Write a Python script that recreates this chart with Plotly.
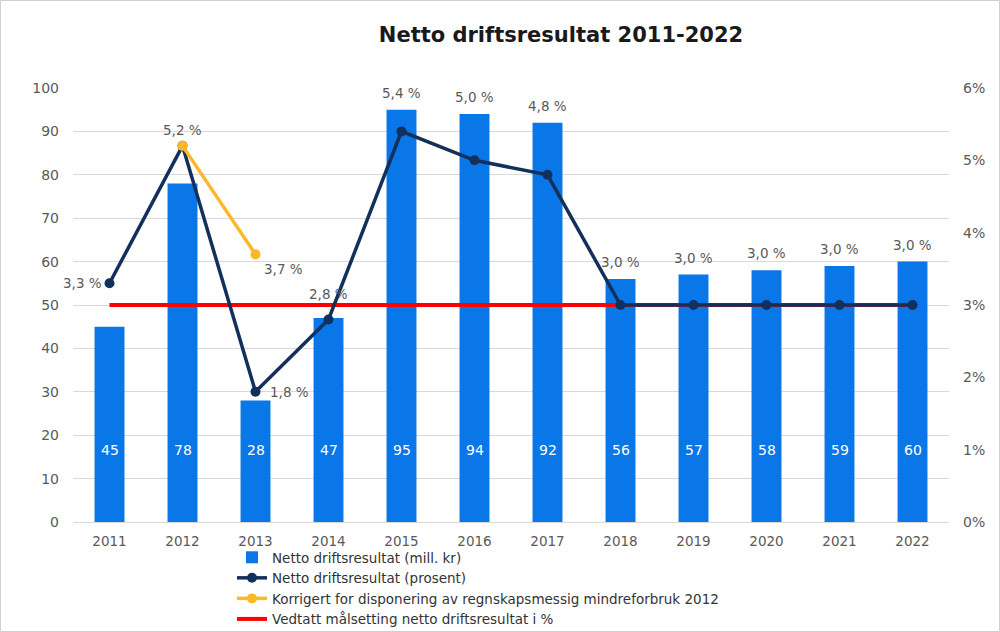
import plotly.graph_objects as go

years = ["2011", "2012", "2013", "2014", "2015", "2016", "2017", "2018", "2019", "2020", "2021", "2022"]
netto_mill = [45, 78, 28, 47, 95, 94, 92, 56, 57, 58, 59, 60]
netto_pct = [3.3, 5.2, 1.8, 2.8, 5.4, 5.0, 4.8, 3.0, 3.0, 3.0, 3.0, 3.0]
korr_years = ["2012", "2013"]
korr_pct = [5.2, 3.7]
maal_pct = [3.0] * 12

W, H = 1000, 632
ML, MR, MT, MB = 73, 51, 88, 110
PW, PH = W - ML - MR, H - MT - MB

FONT = "DejaVu Sans"
GREY = "#595959"
BAR_C = "#0A77E8"
NAVY = "#13305A"
YEL = "#FDB827"
RED = "#FF0000"

fig = go.Figure()
fig.add_trace(go.Bar(
    x=years, y=netto_mill, name="Netto driftsresultat (mill. kr)",
    marker=dict(color=BAR_C, line=dict(width=0)), width=0.41,
    legendrank=1, hoverinfo="skip",
))
fig.add_trace(go.Scatter(
    x=years, y=[v / 100 for v in maal_pct], yaxis="y2", mode="lines",
    name="Vedtatt målsetting netto driftsresultat i %",
    line=dict(color=RED, width=4), legendrank=4,
))
fig.add_trace(go.Scatter(
    x=years, y=[v / 100 for v in netto_pct], yaxis="y2", mode="lines+markers",
    name="Netto driftsresultat (prosent)",
    line=dict(color=NAVY, width=3.5), marker=dict(color=NAVY, size=10),
    legendrank=2,
))
fig.add_trace(go.Scatter(
    x=korr_years, y=[v / 100 for v in korr_pct], yaxis="y2", mode="lines+markers",
    name="Korrigert for disponering av regnskapsmessig mindreforbruk 2012",
    line=dict(color=YEL, width=3.5), marker=dict(color=YEL, size=10),
    legendrank=3,
))

def fmt(v):
    return f"{v:.1f} %".replace(".", ",")

ann = []
# bar value labels (white, placed low inside the bars)
for i, v in enumerate(netto_mill):
    ann.append(dict(x=i, xref="x", y=16.6, yref="y", text=str(v), showarrow=False,
                    font=dict(color="white", size=14, family=FONT)))

# percentage labels
placement = ["left", "above_pt", "right", "above_pt_hi", "above_bar", "above_bar", "above_bar",
             "above_bar", "above_bar", "above_bar", "above_bar", "above_bar"]
for i, (p, b, pl) in enumerate(zip(netto_pct, netto_mill, placement)):
    d = dict(x=i, xref="x", text=fmt(p), showarrow=False,
             font=dict(color=GREY, size=13.5, family=FONT))
    if pl == "left":
        d.update(y=p / 100, yref="y2", xanchor="right", yanchor="middle", xshift=-6)
    elif pl == "right":
        d.update(y=p / 100, yref="y2", xanchor="left", yanchor="middle", xshift=12)
    elif pl == "above_pt":
        d.update(y=p / 100, yref="y2", xanchor="center", yanchor="bottom", yshift=6)
    elif pl == "above_pt_hi":
        d.update(y=p / 100, yref="y2", xanchor="center", yanchor="bottom", yshift=15)
    else:
        d.update(y=b, yref="y", xanchor="center", yanchor="bottom", yshift=7)
    ann.append(d)
# corrected 2013 label
ann.append(dict(x=years.index(korr_years[1]), xref="x", y=korr_pct[1] / 100, yref="y2",
                text=fmt(korr_pct[1]), showarrow=False, xanchor="left", yanchor="top",
                xshift=6, yshift=-5, font=dict(color=GREY, size=13.5, family=FONT)))

fig.update_layout(
    width=W, height=H,
    margin=dict(l=ML, r=MR, t=MT, b=MB, autoexpand=False),
    paper_bgcolor="white", plot_bgcolor="white",
    font=dict(family=FONT, color=GREY, size=14),
    title=dict(text="<b>Netto driftsresultat 2011-2022</b>", x=0.561, xref="container",
               xanchor="center", y=1 - 35 / H, yanchor="middle",
               font=dict(size=21, color="#1A1A1A", family=FONT)),
    xaxis=dict(type="category", range=[-0.5, len(years) - 0.5], showgrid=False,
               showline=True, linecolor="#D9D9D9", linewidth=1, ticks="",
               ticklabelstandoff=7, tickfont=dict(size=13.5, color=GREY)),
    yaxis=dict(range=[0, 100], dtick=10, showgrid=True, gridcolor="#D9D9D9", gridwidth=1,
               zeroline=False, showline=False, ticks="", ticklabelstandoff=13,
               tickfont=dict(size=14, color=GREY)),
    yaxis2=dict(range=[0, 0.06], dtick=0.01, tickformat=".0%", overlaying="y", side="right",
                showgrid=False, zeroline=False, showline=False, ticks="", ticklabelstandoff=13,
                tickfont=dict(size=14, color=GREY)),
    legend=dict(x=(232 - ML) / PW, xanchor="left", y=(522 - 542) / PH, yanchor="top",
                font=dict(size=13.5, color="#333333", family=FONT),
                tracegroupgap=0, itemwidth=30, bgcolor="rgba(0,0,0,0)"),
    annotations=ann,
    shapes=[dict(type="rect", xref="paper", yref="paper",
                 x0=(0.5 - ML) / PW, x1=(W - 0.5 - ML) / PW,
                 y0=-(MB - 0.5) / PH, y1=1 + (MT - 0.5) / PH,
                 line=dict(color="#D0D0D0", width=1), layer="below")],
    showlegend=True,
)

fig.write_html("out.html", config={"displayModeBar": False},
               post_script="document.body.style.margin='0';")
